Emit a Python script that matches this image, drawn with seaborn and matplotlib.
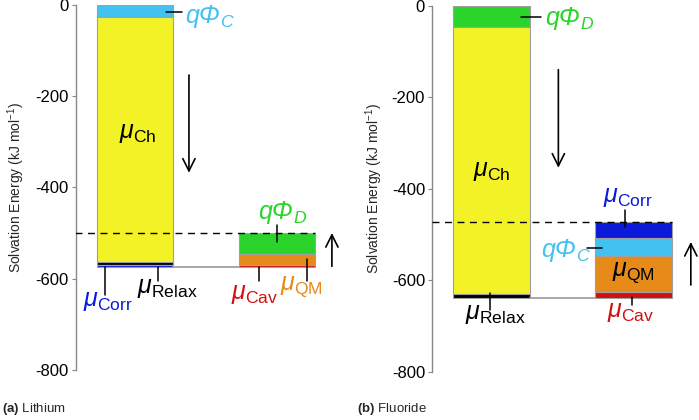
import numpy as np
import pandas as pd
import matplotlib
matplotlib.use("Agg")
import matplotlib.pyplot as plt
import seaborn as sns

# ---------------- data ----------------
bars = ["Ion", "Relaxed"]

li_bar = ["Ion", "Ion", "Ion", "Ion", "Relaxed", "Relaxed", "Relaxed"]
li_term = ["qphiC", "Ch", "Relax", "Corr", "Cav", "QM", "qphiD"]
li_value = [-28, -535, -6, -6, 5, 24, 45]

f_bar = ["Ion", "Ion", "Ion", "Relaxed", "Relaxed", "Relaxed", "Relaxed"]
f_term = ["qphiD", "Ch", "Relax", "Cav", "QM", "qphiC", "Corr"]
f_value = [-46, -584, -8, 13, 79, 39, 35]

term_colors = {
    "qphiC": "#42c2f0",
    "Ch": "#f2f226",
    "Relax": "#000000",
    "Corr": "#0a1ad8",
    "Cav": "#d01010",
    "QM": "#e68a1a",
    "qphiD": "#2ad42a",
}

yticks = [0, -200, -400, -600, -800]
ylabel = "Solvation Energy (kJ mol$^{-1}$)"
captions = [r"$\mathbf{(a)}$ Lithium", r"$\mathbf{(b)}$ Fluoride"]

# ---------------- style ----------------
sns.set_theme(style="ticks")
plt.rcParams["font.family"] = ["Liberation Sans", "DejaVu Sans"]
plt.rcParams["mathtext.fontset"] = "custom"
plt.rcParams["mathtext.rm"] = "Liberation Sans"
plt.rcParams["mathtext.it"] = "Liberation Sans:italic"
plt.rcParams["mathtext.bf"] = "Liberation Sans:bold"

fig = plt.figure(figsize=(6.99, 4.2), dpi=100)
axL = fig.add_axes([75.5 / 699, 50 / 420, 265.5 / 699, 365.3 / 420])
axR = fig.add_axes([432 / 699, 48 / 420, 265.5 / 699, 366.4 / 420])

BW = 0.54
EDGE = "#a0a0a0"


def build(bar, term, value):
    df = pd.DataFrame({"bar": bar, "term": term, "value": value})
    # running energy level: each bar continues from where the previous ended
    df["top"] = np.cumsum(df["value"])
    df["bottom"] = df["top"] - df["value"]
    return df


def draw_panel(ax, df, label_x):
    for _, row in df.iterrows():
        sns.barplot(x=[row["bar"]], y=[row["value"]], order=bars,
                    bottom=row["bottom"], color=term_colors[row["term"]],
                    saturation=1, width=BW, edgecolor=EDGE, linewidth=0.8,
                    errorbar=None, ax=ax)
    ion = df[df["bar"] == "Ion"]
    rel = df[df["bar"] == "Relaxed"]
    low = ion["top"].iloc[-1]
    high = rel["top"].iloc[-1]
    # connector between bottoms
    ax.plot([0 + BW / 2, 1 - BW / 2], [low, low], color=EDGE, lw=1.3, zorder=1)
    # dashed final level
    ax.plot([-0.42, 1 + BW / 2], [high, high], color="black", lw=1.0,
            dashes=(5, 4), zorder=3)
    ax.set_xlim(-0.42, 1.45)
    ax.set_ylim(-800, 0)
    ax.set_yticks(yticks)
    ax.set_yticklabels([str(t) for t in yticks], fontsize=12)
    ax.set_xticks([])
    ax.set_xlabel("")
    ax.set_ylabel(ylabel, fontsize=10)
    ax.yaxis.set_label_coords(label_x, 0.5)
    for s in ["top", "right", "bottom"]:
        ax.spines[s].set_visible(False)
    ax.spines["left"].set_color("#888888")
    ax.spines["left"].set_linewidth(1.0)
    ax.tick_params(axis="y", length=3, width=0.8, color="#888888", pad=2,
                   labelcolor="black")
    ax.patch.set_alpha(0)
    return low, high


dfL = build(li_bar, li_term, li_value)
dfR = build(f_bar, f_term, f_value)
lowL, highL = draw_panel(axL, dfL, -0.183)
lowR, highR = draw_panel(axR, dfR, -0.177)

FS = 18
C = term_colors


def lab(ax, x, y, s, color, ha="center"):
    ax.text(x, y, s, color=color, fontsize=FS, ha=ha, va="center",
            clip_on=False, zorder=5)


def qlab(ax, x, y, sub, color, ha="center"):
    # italic q-Phi with italic subscript (mathtext forces Greek capitals upright)
    t = ax.text(x, y, "qΦ", color=color, fontsize=FS, style="italic",
                ha=ha, va="center", clip_on=False, zorder=5)
    ax.annotate(sub, xy=(1.0, 0.0), xycoords=t, xytext=(0.5, 0.5),
                textcoords="offset points", color=color, fontsize=FS * 0.7,
                style="italic", ha="left", va="baseline",
                annotation_clip=False, zorder=5)


def lead(ax, xs, ys):
    ax.plot(xs, ys, color="black", lw=1.1, clip_on=False, zorder=4)


def arrow(ax, x, y0, y1):
    ax.annotate("", xy=(x, y1), xytext=(x, y0),
                arrowprops=dict(arrowstyle="->", lw=1.2, color="black",
                                mutation_scale=22, shrinkA=0, shrinkB=0),
                annotation_clip=False)


# ---- Lithium annotations ----
qlab(axL, 0.35, -24, "C", C["qphiC"], ha="left")
lead(axL, [0.217, 0.33], [-16, -16])
lab(axL, 0.02, -282, r"$\mu_{\mathrm{Ch}}$", "black")
arrow(axL, 0.379, -154, -368)
arrow(axL, 1.386, -573, -500)
qlab(axL, 0.99, -453, "D", C["qphiD"])
lead(axL, [0.999, 0.999], [-482, -519])
lab(axL, -0.19, -648, r"$\mu_{\mathrm{Corr}}$", C["Corr"])
lead(axL, [-0.212, -0.212], [lowL, -635])
lab(axL, 0.225, -620, r"$\mu_{\mathrm{Relax}}$", "black")
lead(axL, [0.161, 0.161], [lowL, -606])
lab(axL, 0.845, -634, r"$\mu_{\mathrm{Cav}}$", C["Cav"])
lead(axL, [0.872, 0.872], [lowL, -606])
lab(axL, 1.17, -617, r"$\mu_{\mathrm{QM}}$", C["QM"])
lead(axL, [1.21, 1.21], [-558, -606])

# ---- Fluoride annotations ----
qlab(axR, 0.379, -26, "D", C["qphiD"], ha="left")
lead(axR, [0.209, 0.35], [-25, -25])
lab(axR, 0.004, -362, r"$\mu_{\mathrm{Ch}}$", "black")
arrow(axR, 0.47, -140, -354)
arrow(axR, 1.403, -610, -516)
lab(axR, 0.958, -418, r"$\mu_{\mathrm{Corr}}$", C["Corr"])
lead(axR, [0.937, 0.937], [-446, -483])
qlab(axR, 0.47, -533, "C", C["qphiC"])
lead(axR, [0.675, 0.774], [-529, -529])
lab(axR, 1.0, -584, r"$\mu_{\mathrm{QM}}$", "black")
lab(axR, 0.979, -669, r"$\mu_{\mathrm{Cav}}$", C["Cav"])
lead(axR, [0.986, 0.986], [-636, -653])
lab(axR, 0.025, -673, r"$\mu_{\mathrm{Relax}}$", "black")
lead(axR, [-0.01, -0.01], [-627, -664])

fig.text(2 / 699, 8 / 420, captions[0], fontsize=9.5, ha="left", va="baseline")
fig.text(357 / 699, 8 / 420, captions[1], fontsize=9.5, ha="left", va="baseline")

fig.savefig("out.png", dpi=100)
